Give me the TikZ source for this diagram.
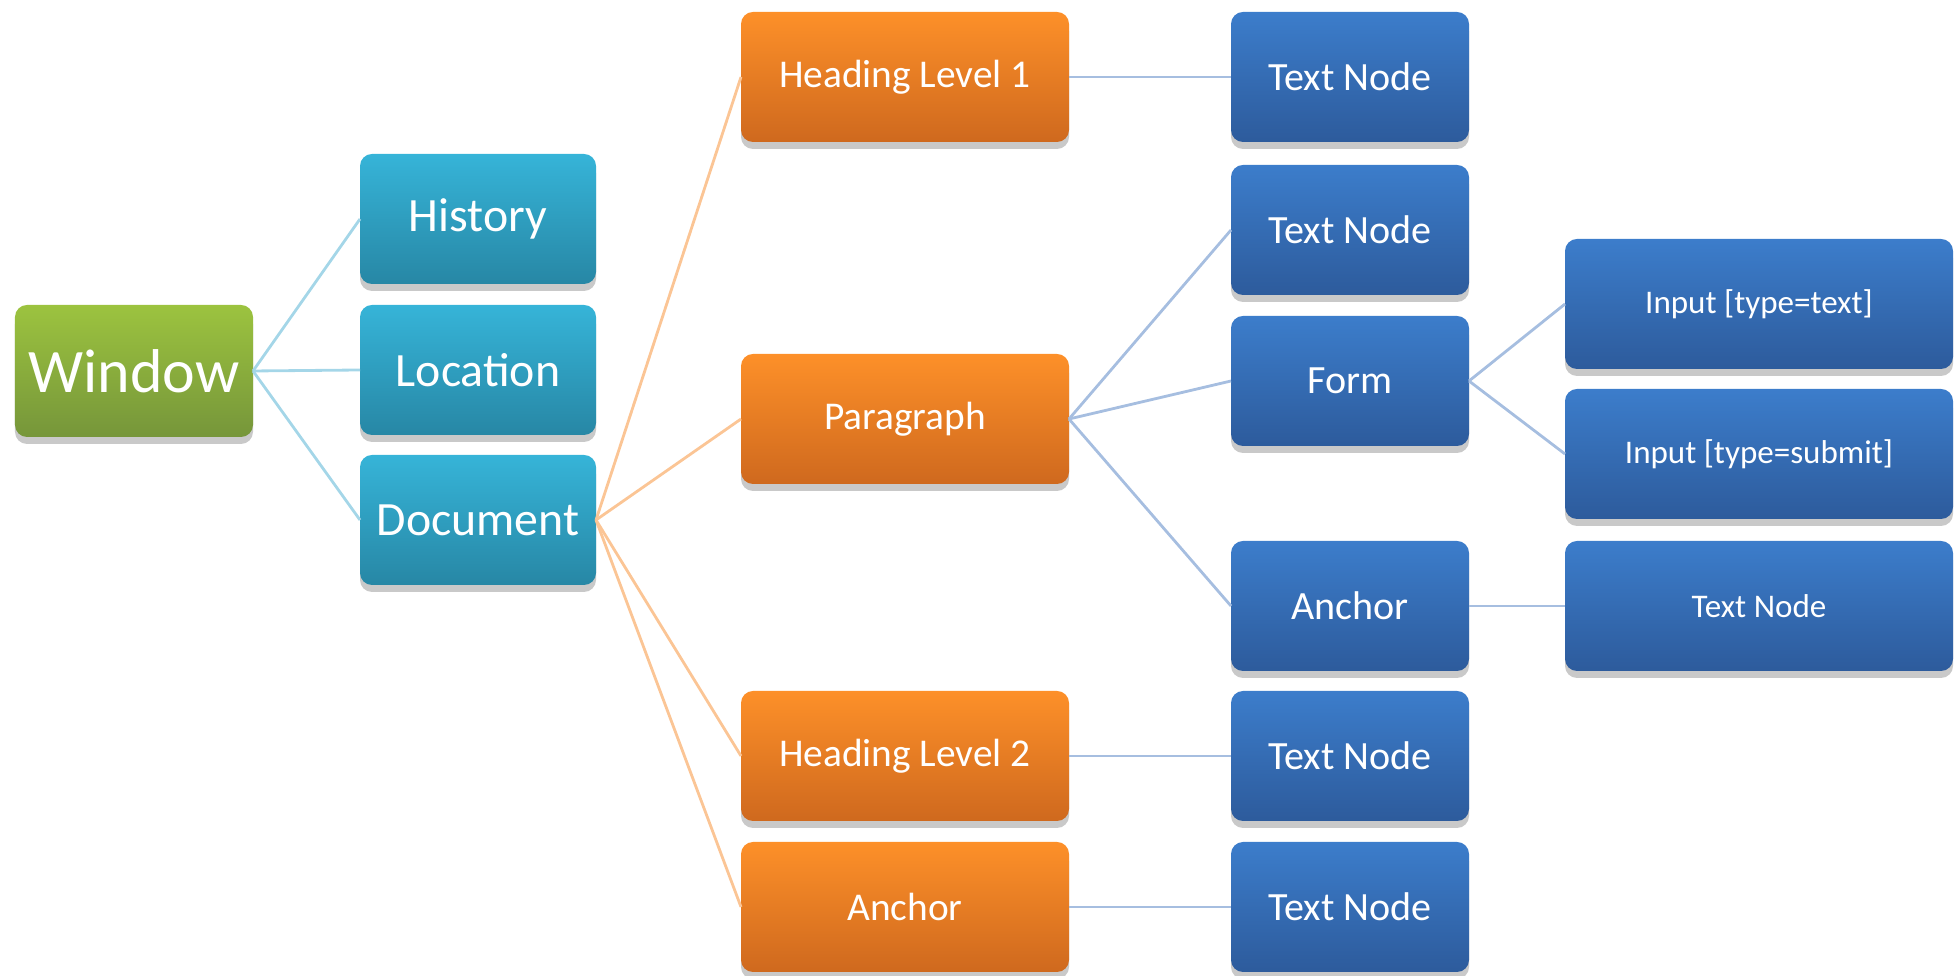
\documentclass[tikz,border=0pt]{standalone}
\usepackage{fontspec}
\setmainfont{Carlito}
\usetikzlibrary{shadows}

\definecolor{greenTop}{HTML}{9CC33F}
\definecolor{greenBot}{HTML}{76963A}
\definecolor{cyanTop}{HTML}{36B4D8}
\definecolor{cyanBot}{HTML}{2787A5}
\definecolor{orangeTop}{HTML}{FD9029}
\definecolor{orangeBot}{HTML}{CF691E}
\definecolor{blueTop}{HTML}{3C7DCB}
\definecolor{blueBot}{HTML}{2D5B9C}
\definecolor{cyanLine}{HTML}{A4D6E8}
\definecolor{orangeLine}{HTML}{FBC595}
\definecolor{blueLine}{HTML}{A6BEE0}

\begin{document}
\begin{tikzpicture}
		\tikzstyle{Box} = [rectangle, rounded corners=1.2mm, text=white, inner sep=0pt, outer sep=0pt, minimum height=1.30cm, drop shadow={shadow xshift=0pt, shadow yshift=-0.7mm, opacity=0.3, fill=black!70}]
		\tikzstyle{WinNode} = [Box, minimum width=2.38cm, minimum height=1.32cm, top color=greenTop, bottom color=greenBot, font=\fontsize{17.6pt}{20pt}\selectfont]
		\tikzstyle{CyanNode} = [Box, minimum width=2.36cm, top color=cyanTop, bottom color=cyanBot, font=\fontsize{13.6pt}{16pt}\selectfont]
		\tikzstyle{OrangeNode} = [Box, minimum width=3.28cm, top color=orangeTop, bottom color=orangeBot, font=\fontsize{11.2pt}{13pt}\selectfont]
		\tikzstyle{BlueNode} = [Box, minimum width=2.38cm, top color=blueTop, bottom color=blueBot, font=\fontsize{11.4pt}{13pt}\selectfont]
		\tikzstyle{WideNode} = [Box, minimum width=3.88cm, top color=blueTop, bottom color=blueBot, font=\fontsize{9.4pt}{11pt}\selectfont]
		\tikzstyle{cyanline} = [cyanLine, line width=0.8pt]
		\tikzstyle{orangeline} = [orangeLine, line width=0.8pt]
		\tikzstyle{blueline} = [blueLine, line width=0.8pt]

		\useasboundingbox (0,0) rectangle (19.6,9.76);

		% first levels
		\node (window) [WinNode] at (1.34,6.05) {Window};
		\node (history) [CyanNode] at (4.78,7.57) {History};
		\node (location) [CyanNode] at (4.78,6.06) {Location};
		\node (document) [CyanNode] at (4.78,4.56) {Document};

		% document children
		\node (head1) [OrangeNode] at (9.05,8.99) {Heading Level 1};
		\node (para) [OrangeNode] at (9.05,5.57) {Paragraph};
		\node (head2) [OrangeNode] at (9.05,2.20) {Heading Level 2};
		\node (anchorA) [OrangeNode] at (9.05,0.69) {Anchor};

		% third level
		\node (text1) [BlueNode] at (13.50,8.99) {Text Node};
		\node (text2) [BlueNode] at (13.50,7.46) {Text Node};
		\node (form) [BlueNode] at (13.50,5.95) {Form};
		\node (anchorB) [BlueNode] at (13.50,3.70) {Anchor};
		\node (text3) [BlueNode] at (13.50,2.20) {Text Node};
		\node (text4) [BlueNode] at (13.50,0.69) {Text Node};

		% fourth level
		\node (inText) [WideNode] at (17.59,6.72) {Input [type=text]};
		\node (inSubmit) [WideNode] at (17.59,5.22) {Input [type=submit]};
		\node (text5) [WideNode] at (17.59,3.70) {Text Node};

		\draw[cyanline] (window.east) -- (history.west);
		\draw[cyanline] (window.east) -- (location.west);
		\draw[cyanline] (window.east) -- (document.west);
		\draw[orangeline] (document.east) -- (head1.west);
		\draw[orangeline] (document.east) -- (para.west);
		\draw[orangeline] (document.east) -- (head2.west);
		\draw[orangeline] (document.east) -- (anchorA.west);
		\draw[blueline] (head1.east) -- (text1.west);
		\draw[blueline] (para.east) -- (text2.west);
		\draw[blueline] (para.east) -- (form.west);
		\draw[blueline] (para.east) -- (anchorB.west);
		\draw[blueline] (head2.east) -- (text3.west);
		\draw[blueline] (anchorA.east) -- (text4.west);
		\draw[blueline] (form.east) -- (inText.west);
		\draw[blueline] (form.east) -- (inSubmit.west);
		\draw[blueline] (anchorB.east) -- (text5.west);
		\end{tikzpicture}
\end{document}
